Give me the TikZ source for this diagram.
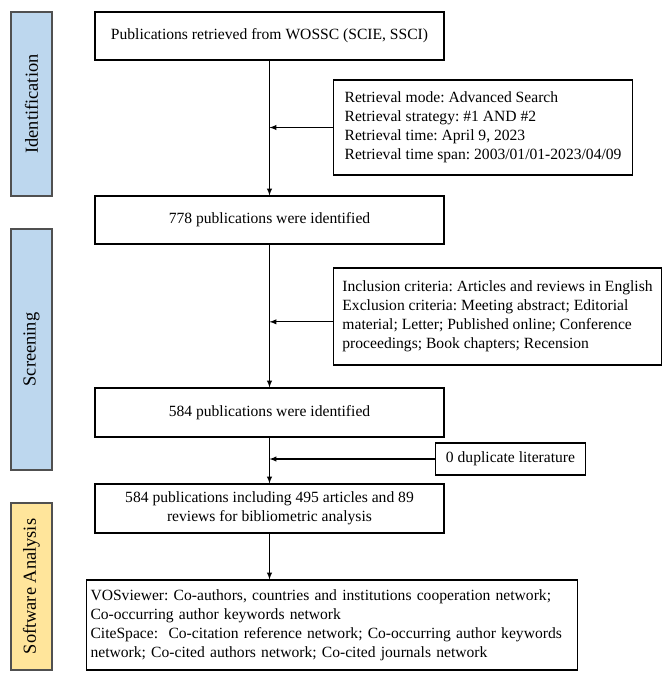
\documentclass[tikz,border=0pt]{standalone}
\usepackage{fontspec}
\setmainfont{Liberation Serif}
\usepackage{xcolor}
\usetikzlibrary{arrows}
\usetikzlibrary{math}
\definecolor{sblue}{RGB}{189,215,238}
\definecolor{syellow}{RGB}{255,229,155}
\definecolor{sedge}{RGB}{80,80,80}
\newcommand{\pxu}{0.75}
\frenchspacing

\tikzset{
 flowbox/.style={draw=black, line width=0.8pt, minimum width=\pxu*349pt, minimum height=\pxu*48pt,
   inner sep=0pt, font=\fontsize{11.7}{14.3}\selectfont},
 notebox/.style={draw=black, line width=0.8pt, align=left, anchor=west, inner sep=0pt,
   font=\fontsize{11.7}{14.3}\selectfont},
 stagebox/.style={draw=sedge, line width=0.8pt, minimum height=\pxu*41pt, rotate=90,
   font=\fontsize{13.8}{16}\selectfont},
 flowarrow/.style={line width=0.8pt, -latex},
}

\begin{document}
\begin{tikzpicture}[x=0.75pt, y=-0.75pt]

\tikzmath{
\xm = 269.5;
\xs = 31.5;
}

\useasboundingbox (0,0) rectangle (669,683);

%Stages
\node[stagebox, fill=sblue, minimum width=\pxu*184pt] (ident) at (\xs,104) {Identification};
\node[stagebox, fill=sblue, minimum width=\pxu*241pt] (screen) at (\xs,349.5) {Screening};
\node[stagebox, fill=syellow, minimum width=\pxu*167pt] (soft) at (\xs,586.5) {Software Analysis};

%Main boxes
\node[flowbox] (pubs) at (\xm,36) {Publications retrieved from WOSSC (SCIE, SSCI)};
\node[flowbox] (ident778) at (\xm,220) {778 publications were identified};
\node[flowbox, minimum height=\pxu*49pt] (ident584) at (\xm,412.5) {584 publications were identified};
\node[flowbox, minimum height=\pxu*49pt, align=center] (incl584) at (\xm,508.5)
  {584 publications including 495 articles and 89\\reviews for bibliometric analysis};
\node[notebox, text width=\pxu*483pt, inner xsep=\pxu*4pt, minimum height=\pxu*90pt]
  (tools) at (86,625)
  {VOSviewer: Co-authors, countries and institutions cooperation network;\\
   Co-occurring author keywords network\\
   CiteSpace:\ \ Co-citation reference network; Co-occurring author keywords\\
   network; Co-cited authors network; Co-cited journals network};

%Side notes
\node[notebox, minimum width=\pxu*299pt, minimum height=\pxu*95pt] (retr) at (333,127.5)
  {Retrieval mode: Advanced Search\\
   Retrieval strategy: \#1 AND \#2\\
   Retrieval time: April 9, 2023\\
   Retrieval time span: 2003/01/01-2023/04/09};
\node[notebox, minimum width=\pxu*328pt, minimum height=\pxu*97pt] (crit) at (333,316.5)
  {Inclusion criteria: Articles and reviews in English\\
   Exclusion criteria: Meeting abstract; Editorial\\
   material; Letter; Published online; Conference\\
   proceedings; Book chapters; Recension};
\node[notebox, minimum width=\pxu*150pt, minimum height=\pxu*32pt] (dup) at (435,459)
  {0 duplicate literature};

%Arrows
\draw[flowarrow] (pubs) -- (ident778);
\draw[flowarrow] (retr.west) -- (retr.west -| pubs.south);
\draw[flowarrow] (ident778) -- (ident584);
\draw[flowarrow] ([yshift=-4pt]crit.west) -- ([yshift=-4pt]crit.west -| pubs.south);
\draw[flowarrow] (ident584) -- (incl584);
\draw[flowarrow] (dup.west) -- (dup.west -| pubs.south);
\draw[flowarrow] (incl584) -- (incl584.south |- tools.north);

\end{tikzpicture}
\end{document}
